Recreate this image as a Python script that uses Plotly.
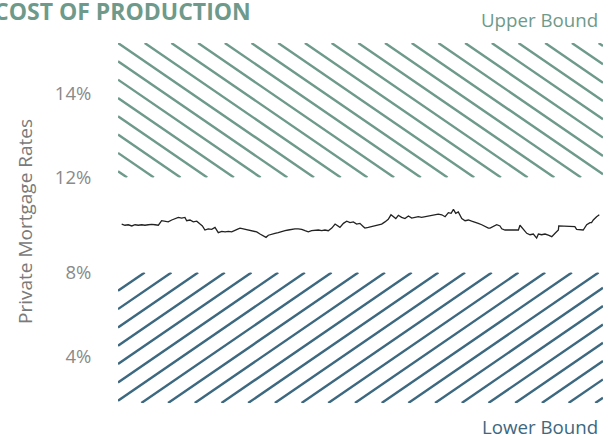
import plotly.graph_objects as go

# ---------------- data ----------------
weeks = [1.9, 3.6, 5.3, 7.1, 8.8, 10.5, 12.2, 13.9, 15.6, 17.4, 19.1, 20.8, 22.5, 24.2, 25.9, 27.7, 29.4, 31.1, 32.8, 34.5,
         35.4, 37.1, 38.8, 40.6, 42.3, 43.5, 44.8, 46.5, 48.3, 50.0, 51.7, 53.5, 55.2, 56.9, 58.6, 60.3, 62.0,
         62.9, 64.6, 66.3, 68.0, 69.7, 71.5, 73.2, 74.9, 76.3, 77.5, 79.2, 80.9, 82.6, 84.4, 86.1, 87.8, 89.5, 91.2, 92.9, 94.7,
         96.4, 98.1, 99.8, 101.6, 103.3, 105.0, 106.7, 108.4, 110.2, 111.9, 113.6, 114.4, 116.2, 117.9, 119.6, 121.3, 123.0, 124.7, 126.5,
         127.3, 129.0, 130.8, 132.5, 134.2, 135.9, 137.6, 139.3, 140.7, 141.9, 143.2, 144.5, 146.2, 147.9, 149.7, 151.4, 153.1, 154.8, 156.5, 158.3,
         160.0, 161.7, 163.4, 165.1, 166.9, 168.6, 170.3, 171.7, 172.9, 174.1, 175.4, 177.2, 178.9, 180.6, 182.3, 184.0, 185.7, 187.5, 189.2, 190.9,
         191.8, 193.5, 195.2, 196.9, 197.8, 199.5, 201.2, 203.0, 204.7, 206.4, 207.2, 208.1, 208.9, 210.7, 212.4, 214.1, 215.8, 216.7, 218.4, 220.1,
         221.8, 223.6, 225.3, 227.0, 227.2, 229.6, 232.1, 234.7, 235.5, 236.4, 238.1, 239.8, 241.6, 243.3, 244.1, 245.0, 246.7, 248.1]
rates = [10.04, 9.99, 10.01, 9.96, 10.01, 9.99, 10.01, 9.99, 10.01, 10.03, 10.01, 9.99, 10.18, 10.16, 10.13, 10.21, 10.27, 10.32, 10.29, 10.32,
         10.18, 10.21, 10.13, 10.16, 10.04, 9.96, 9.79, 9.84, 9.82, 9.90, 9.68, 9.73, 9.71, 9.73, 9.71, 9.79, 9.84,
         9.87, 9.84, 9.82, 9.79, 9.76, 9.71, 9.62, 9.54, 9.48, 9.57, 9.62, 9.65, 9.68, 9.73, 9.76, 9.79, 9.82, 9.84, 9.84, 9.82,
         9.76, 9.71, 9.76, 9.79, 9.79, 9.76, 9.79, 9.76, 9.87, 10.04, 9.93, 9.90, 10.07, 10.16, 10.10, 10.13, 10.04, 10.07, 9.93,
         9.87, 9.90, 9.93, 9.96, 9.99, 10.04, 10.13, 10.24, 10.43, 10.35, 10.27, 10.41, 10.32, 10.27, 10.38, 10.29, 10.32, 10.35, 10.32, 10.35,
         10.35, 10.41, 10.41, 10.46, 10.43, 10.35, 10.52, 10.49, 10.66, 10.49, 10.55, 10.27, 10.18, 10.21, 10.16, 10.13, 10.07, 10.01, 9.93, 9.87,
         9.87, 9.93, 10.01, 9.96, 9.84, 9.79, 9.79, 9.76, 9.76, 9.79, 9.99, 9.90, 9.82, 9.65, 9.59, 9.62, 9.45, 9.62, 9.59, 9.62,
         9.57, 9.51, 9.65, 9.79, 9.96, 9.96, 9.96, 9.96, 9.93, 9.82, 9.79, 9.79, 10.01, 10.10, 10.10, 10.21, 10.35, 10.43]

x_span = [0, 250]
upper_bound = [12.0, 15.2]   # hatched "Upper Bound" band (%)
lower_bound = [1.8, 8.0]     # hatched "Lower Bound" band (%)
mid_range = [8.0, 12.0]
ticks_top = [14]
ticks_mid = [12, 8]
ticks_bot = [4]

title_text = "COST OF PRODUCTION"
y_title = "Private Mortgage Rates"
upper_label = "Upper Bound"
lower_label = "Lower Bound"

# ---------------- layout constants ----------------
W, H = 612, 436
ML, MR, MT, MB = 118, 9, 43, 33
PW, PH = W - ML - MR, H - MT - MB
top_px = [43, 177.5]      # pixel rows (from top) of each panel
mid_px = [177.5, 272.5]
bot_px = [272.5, 403]

GREEN = "#6e9a8b"
BLUE = "#3c6880"
GREY = "#8a8a8a"
FONT = "Open Sans"


def dom(px):
    return [(H - MB - px[1]) / PH, (H - MB - px[0]) / PH]


def ppx(px):
    return (px - ML) / PW


def ppy(py):
    return (H - MB - py) / PH


def pct(vals):
    return ["%d%%" % v for v in vals]


def hatch(xr, yr, panel_px, yrange, step_px, slope, down):
    """Diagonal hatch segments clipping a rectangle, built in screen-like units."""
    kx = PW / (x_span[1] - x_span[0])
    ky = (panel_px[1] - panel_px[0]) / (yrange[1] - yrange[0])
    u0, u1 = xr[0] * kx, xr[1] * kx
    v0, v1 = yr[0] * ky, yr[1] * ky
    s = -slope if down else slope
    dc = step_px * slope
    c_anchor = v1 - s * u0
    cands = [v0 - s * u0, v0 - s * u1, v1 - s * u0, v1 - s * u1]
    cmin, cmax = min(cands), max(cands)
    k0 = int((cmin - c_anchor) / dc) - 1
    k1 = int((cmax - c_anchor) / dc) + 1
    xs, ys = [], []
    for k in range(k0, k1 + 1):
        c = c_anchor + k * dc
        a, b = (v0 - c) / s, (v1 - c) / s
        lo, hi = max(u0, min(a, b)), min(u1, max(a, b))
        if hi - lo > 0.5:
            xs += [lo / kx, hi / kx, None]
            ys += [(s * lo + c) / ky, (s * hi + c) / ky, None]
    return xs, ys


hx_u, hy_u = hatch(x_span, upper_bound, top_px, upper_bound, 26.7, 0.686, True)
hx_l, hy_l = hatch(x_span, lower_bound, bot_px, lower_bound, 26.7, 0.686, False)

fig = go.Figure()
fig.add_trace(go.Scatter(x=hx_u, y=hy_u, mode="lines", xaxis="x", yaxis="y",
                         line=dict(color=GREEN, width=2.4), hoverinfo="skip", showlegend=False))
fig.add_trace(go.Scatter(x=weeks, y=rates, mode="lines", xaxis="x2", yaxis="y2",
                         line=dict(color="#222222", width=1.3), showlegend=False))
fig.add_trace(go.Scatter(x=hx_l, y=hy_l, mode="lines", xaxis="x3", yaxis="y3",
                         line=dict(color=BLUE, width=2.4), hoverinfo="skip", showlegend=False))

xax = dict(range=x_span, visible=False, domain=[0, 1])
yax = dict(showgrid=False, zeroline=False, showline=False, ticks="outside", ticklen=22,
           tickcolor="rgba(0,0,0,0)", tickfont=dict(family=FONT, size=18.5, color=GREY))

fig.update_layout(
    width=W, height=H,
    margin=dict(l=ML, r=MR, t=MT, b=MB),
    paper_bgcolor="white", plot_bgcolor="white",
    xaxis=dict(xax, anchor="y"),
    xaxis2=dict(xax, anchor="y2"),
    xaxis3=dict(xax, anchor="y3"),
    yaxis=dict(yax, domain=dom(top_px), range=upper_bound, tickvals=ticks_top,
               ticktext=pct(ticks_top), anchor="x"),
    yaxis2=dict(yax, domain=dom(mid_px), range=mid_range, tickvals=ticks_mid,
                ticktext=pct(ticks_mid), anchor="x2"),
    yaxis3=dict(yax, domain=dom(bot_px), range=lower_bound, tickvals=ticks_bot,
                ticktext=pct(ticks_bot), anchor="x3"),
    annotations=[
        dict(text="<b>" + title_text + "</b>", xref="paper", yref="paper", x=ppx(253), y=ppy(11),
             xanchor="right", yanchor="middle", showarrow=False,
             font=dict(family=FONT, size=23, color=GREEN)),
        dict(text=upper_label, xref="paper", yref="paper", x=ppx(600), y=ppy(19.5),
             xanchor="right", yanchor="middle", showarrow=False,
             font=dict(family=FONT, size=18.7, color=GREEN)),
        dict(text=lower_label, xref="paper", yref="paper", x=ppx(600), y=ppy(426.5),
             xanchor="right", yanchor="middle", showarrow=False,
             font=dict(family=FONT, size=18.7, color=BLUE)),
        dict(text=y_title, xref="paper", yref="paper", x=ppx(25), y=ppy(222),
             xanchor="center", yanchor="middle", textangle=-90, showarrow=False,
             font=dict(family=FONT, size=19, color="#7a7a7a")),
    ],
)

fig.write_html("out.html")
